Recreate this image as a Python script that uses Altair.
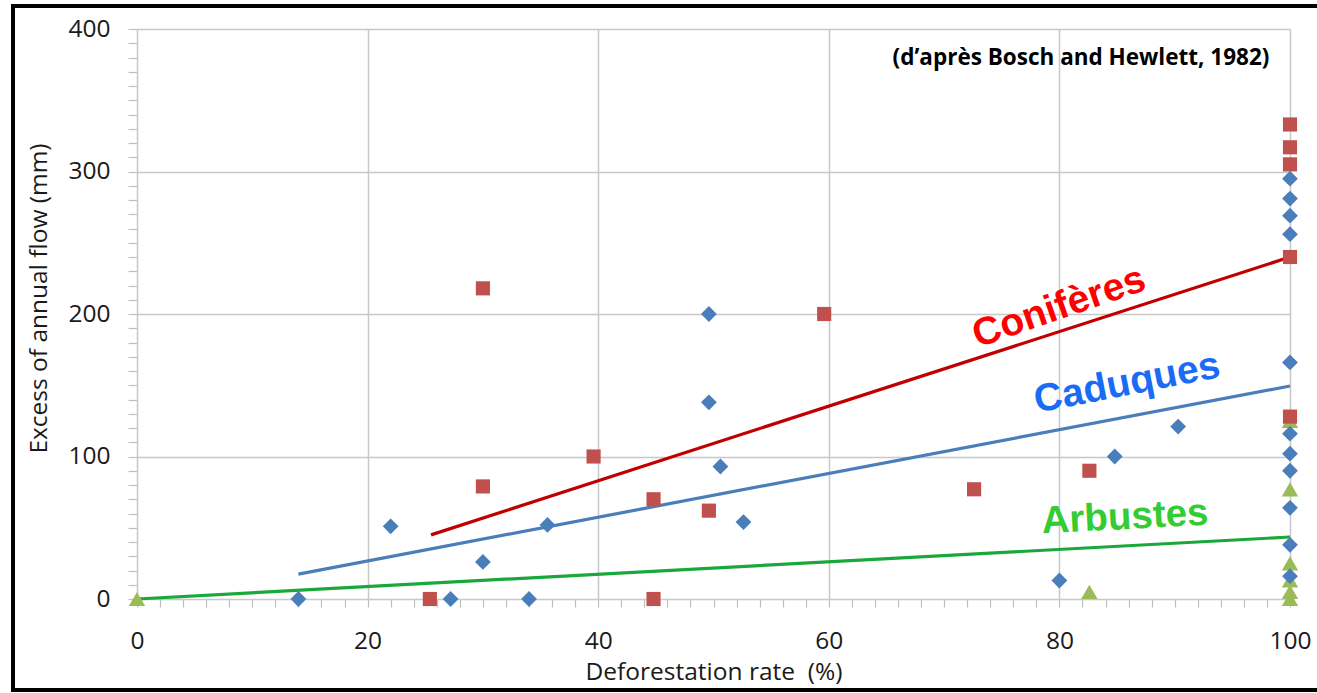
import altair as alt
import pandas as pd

# ---- data ----
cad_x = [14, 22, 27.2, 30, 34, 35.6, 49.6, 49.6, 50.6, 52.6, 80, 84.8, 90.3,
         100, 100, 100, 100, 100, 100, 100, 100, 100, 100, 100]
cad_y = [0, 51, 0, 26, 0, 52, 200, 138, 93, 54, 13, 100, 121,
         295, 281, 269, 256, 166, 116, 102, 90, 64, 38, 16]

con_x = [25.4, 30, 30, 39.6, 44.8, 44.8, 49.6, 59.6, 72.6, 82.6,
         100, 100, 100, 100, 100]
con_y = [0, 218, 79, 100, 70, 0, 62, 200, 77, 90,
         333, 317, 305, 240, 128]

arb_x = [0, 82.6, 100, 100, 100, 100, 100, 100]
arb_y = [0, 5, 125, 77, 25, 13, 5, 0]

# regression lines (end points)
con_line_x = [25.5, 100]
con_line_y = [45, 240]
cad_line_x = [14, 100]
cad_line_y = [17.5, 149.5]
arb_line_x = [0, 100]
arb_line_y = [0, 43.5]

FONT = "Open Sans"

pts = pd.concat([
    pd.DataFrame({"x": cad_x, "y": cad_y, "g": "Caduques"}),
    pd.DataFrame({"x": con_x, "y": con_y, "g": "Conifères"}),
    pd.DataFrame({"x": arb_x, "y": arb_y, "g": "Arbustes"}),
])
lines = pd.concat([
    pd.DataFrame({"x": con_line_x, "y": con_line_y, "g": "Conifères"}),
    pd.DataFrame({"x": cad_line_x, "y": cad_line_y, "g": "Caduques"}),
    pd.DataFrame({"x": arb_line_x, "y": arb_line_y, "g": "Arbustes"}),
])

xscale = alt.Scale(domain=[0, 100], nice=False, zero=False)
yscale = alt.Scale(domain=[0, 400], nice=False, zero=False)

xaxis = alt.Axis(
    title="Deforestation rate\u00a0\u00a0(%)",
    values=list(range(0, 101, 2)), tickCount=200, format="d",
    labelExpr="datum.value % 20 === 0 ? datum.label : ''",
    labelOverlap=False, labelFlush=False,
    gridOpacity={"condition": {"test": "datum.value % 20 === 0 && datum.value > 0", "value": 1}, "value": 0},
    gridColor="#c8c8c8", gridWidth=1.5,
    domainColor="#c8c8c8", domainWidth=1.5,
    tickColor="#bdbdbd", tickSize=8, tickWidth=1.2,
    labelFont=FONT, labelFontSize=24.5, labelColor="#1a1a1a", labelPadding=22,
    titleFont=FONT, titleFontSize=24.5, titleFontWeight="normal", titleColor="#1a1a1a",
    titlePadding=8,
)
yaxis = alt.Axis(
    title="Excess of annual flow (mm)",
    values=list(range(0, 401, 10)), tickCount=200, format="d",
    labelExpr="datum.value % 100 === 0 ? datum.label : ''",
    labelOverlap=False, labelFlush=False,
    gridOpacity={"condition": {"test": "datum.value % 100 === 0 && datum.value > 0", "value": 1}, "value": 0},
    gridColor="#c8c8c8", gridWidth=1.5,
    domainColor="#c8c8c8", domainWidth=1.5,
    tickColor="#bdbdbd", tickSize=9, tickWidth=1.2,
    labelFont=FONT, labelFontSize=24.5, labelColor="#1a1a1a", labelPadding=18,
    titleFont=FONT, titleFontSize=24.5, titleFontWeight="normal", titleColor="#1a1a1a",
    titlePadding=16, titleY=269,
)

base_x = alt.X("x:Q", scale=xscale, axis=xaxis)
base_y = alt.Y("y:Q", scale=yscale, axis=yaxis)

line_colors = alt.Scale(domain=["Conifères", "Caduques", "Arbustes"],
                        range=["#c00000", "#4a7ebb", "#1aa83a"])

reg = alt.Chart(lines).mark_line(strokeWidth=3.2).encode(
    x=base_x, y=base_y,
    color=alt.Color("g:N", scale=line_colors, legend=None),
    detail="g:N",
)

cad = alt.Chart(pts[pts.g == "Caduques"]).mark_point(
    shape="diamond", filled=True, size=250, color="#4a7ebb", opacity=1
).encode(x="x:Q", y="y:Q")
con = alt.Chart(pts[pts.g == "Conifères"]).mark_point(
    shape="square", filled=True, size=200, color="#c0504d", opacity=1
).encode(x="x:Q", y="y:Q")
arb = alt.Chart(pts[pts.g == "Arbustes"]).mark_point(
    shape="triangle-up", filled=True, size=270, color="#9bbb59", opacity=1
).encode(x="x:Q", y="y:Q")

def label(text, px, py, color, angle, size):
    return alt.Chart(pd.DataFrame({"t": [text]})).mark_text(
        font="Liberation Sans", fontWeight="bold", fontSize=size, color=color,
        angle=angle, align="center", baseline="middle"
    ).encode(x=alt.value(px), y=alt.value(py), text="t:N")

l_con = label("Conifères", 922, 278, "#ff0000", 341, 39)
l_cad = label("Caduques", 990, 354, "#1a6cf5", 349, 39)
l_arb = label("Arbustes", 988, 488, "#33cc33", 357, 38.5)

attrib = alt.Chart(pd.DataFrame({"t": ["(d’après Bosch and Hewlett, 1982)"]})).mark_text(
    font=FONT, fontWeight="bold", fontSize=22.5, color="#000000",
    align="center", baseline="middle"
).encode(x=alt.value(944), y=alt.value(29), text="t:N")

frame = alt.Chart(pd.DataFrame({"a": [0]})).mark_rect(
    filled=False, stroke="#000000", strokeWidth=4
).encode(x=alt.value(-124), x2=alt.value(1185), y=alt.value(-23), y2=alt.value(661))

chart = alt.layer(reg, arb, cad, con, l_con, l_cad, l_arb, attrib, frame).properties(
    width=1153, height=570,
    autosize=alt.AutoSizeParams(type="none"),
    padding={"left": 137, "top": 29, "right": 27, "bottom": 94},
    background="white",
).configure_view(stroke=None)

chart.save("out.html", embed_options={"renderer": "svg", "actions": False})
